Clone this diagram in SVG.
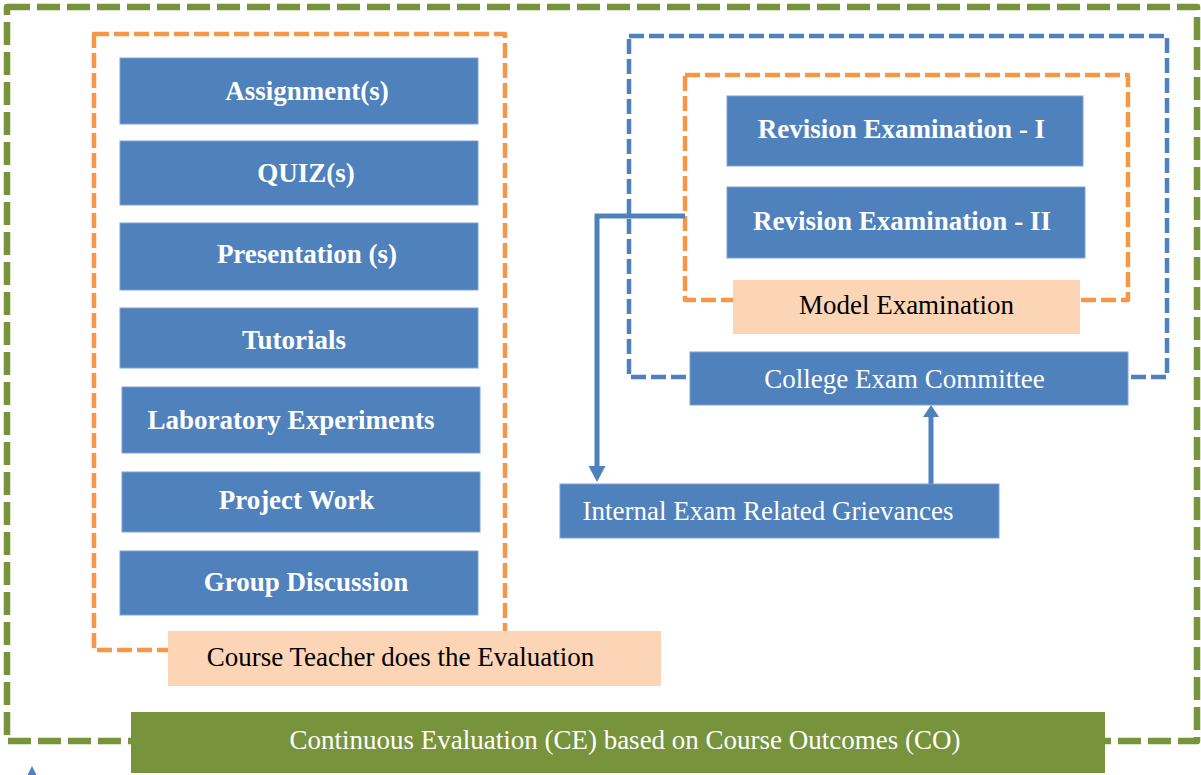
<svg xmlns="http://www.w3.org/2000/svg" width="1201" height="775" viewBox="0 0 1201 775">
<style>
.bx{fill:#4F81BD;stroke:#7FA3D1;stroke-width:1}
.pe{fill:#FBD5B5}
.gr{fill:#77933C}
.tb{font-family:"Liberation Serif","Times New Roman",serif;font-weight:bold;font-size:27px;fill:#fff;text-anchor:middle}
.tw{font-family:"Liberation Serif","Times New Roman",serif;font-size:27px;fill:#fff;text-anchor:middle}
.tk{font-family:"Liberation Serif","Times New Roman",serif;font-size:27px;fill:#000;text-anchor:middle}
.dg{fill:none;stroke:#77933C;stroke-width:6.5;stroke-dasharray:23 7;stroke-linejoin:round}
.do{fill:none;stroke:#F79646;stroke-width:4.5;stroke-dasharray:15 5;stroke-linejoin:round}
.db{fill:none;stroke:#4F81BD;stroke-width:4.5;stroke-dasharray:15 5;stroke-linejoin:round}
.cn{fill:none;stroke:#4F81BD;stroke-width:5}
</style>
<defs>
<marker id="ah" markerUnits="userSpaceOnUse" markerWidth="18" markerHeight="18" refX="0" refY="8.5" orient="auto">
<path d="M0,0 L16,8.5 L0,17 Z" fill="#4F81BD"/>
</marker>
<marker id="ah2" markerUnits="userSpaceOnUse" markerWidth="14" markerHeight="18" refX="0" refY="8" orient="auto">
<path d="M0,0 L12,8 L0,16 Z" fill="#4F81BD"/>
</marker>
</defs>
<rect width="1201" height="775" fill="#fff"/>

<g id="outer-boundary"><rect class="dg" x="7" y="7" width="1190" height="734"/></g>
<g id="left-boundary"><rect class="do" x="94" y="34" width="411" height="616"/></g>
<g id="committee-boundary"><rect class="db" x="629" y="36" width="538" height="341"/></g>
<g id="model-boundary"><rect class="do" x="685" y="75" width="443" height="225"/></g>

<g id="connectors">
<path class="cn" d="M685,216 H597 V466" marker-end="url(#ah)"/>
<path class="cn" d="M931,484 V417" marker-end="url(#ah2)"/>
<polygon points="32,766 27,776 37,776" fill="#4F81BD"/>
</g>

<g id="assignments"><rect class="bx" x="120" y="58" width="358" height="66"/><text class="tb" x="307" y="100">Assignment(s)</text></g>
<g id="quiz"><rect class="bx" x="120" y="141" width="358" height="64"/><text class="tb" x="306" y="182">QUIZ(s)</text></g>
<g id="presentation"><rect class="bx" x="120" y="223" width="358" height="67"/><text class="tb" x="307" y="263">Presentation (s)</text></g>
<g id="tutorials"><rect class="bx" x="120" y="308" width="358" height="60"/><text class="tb" x="294" y="349">Tutorials</text></g>
<g id="laboratory"><rect class="bx" x="122" y="387" width="358" height="66"/><text class="tb" x="291" y="429">Laboratory Experiments</text></g>
<g id="project"><rect class="bx" x="122" y="472" width="358" height="60"/><text class="tb" x="296.5" y="509">Project Work</text></g>
<g id="group-discussion"><rect class="bx" x="120" y="551" width="358" height="64"/><text class="tb" x="306" y="591">Group Discussion</text></g>
<g id="course-teacher"><rect class="pe" x="168" y="631" width="493" height="55"/><text class="tk" x="400.5" y="666">Course Teacher does the Evaluation</text></g>

<g id="revision-1"><rect class="bx" x="727" y="96" width="356" height="70"/><text class="tb" x="901.5" y="138">Revision Examination - I</text></g>
<g id="revision-2"><rect class="bx" x="727" y="187" width="358" height="71"/><text class="tb" x="902" y="230">Revision Examination - II</text></g>
<g id="model-exam"><rect class="pe" x="733" y="280" width="347" height="54"/><text class="tk" x="906.5" y="314">Model Examination</text></g>
<g id="college-committee"><rect class="bx" x="690" y="352" width="438" height="53"/><text class="tw" x="904.5" y="388">College Exam Committee</text></g>
<g id="grievances"><rect class="bx" x="560" y="484" width="439" height="54"/><text class="tw" x="768" y="520">Internal Exam Related Grievances</text></g>

<g id="continuous-evaluation"><rect class="gr" x="131" y="712" width="974" height="61"/><text class="tw" x="625" y="749">Continuous Evaluation (CE) based on Course Outcomes (CO)</text></g>
</svg>
